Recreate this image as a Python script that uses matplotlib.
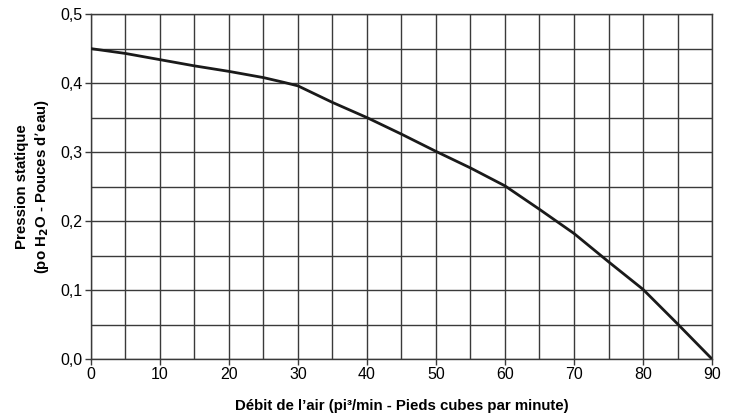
import numpy as np
import matplotlib
matplotlib.use("Agg")
import matplotlib.pyplot as plt
from matplotlib.ticker import MultipleLocator, FuncFormatter

plt.rcParams['font.family'] = ['Liberation Sans', 'DejaVu Sans']

# Débit (pi3/min) vs pression statique (po H2O)
debit = [0, 5, 10, 15, 20, 25, 28, 30, 35, 40, 45, 50, 55, 60, 65, 70, 75, 80, 85, 90]
pression = [0.450, 0.443, 0.434, 0.425, 0.417, 0.408, 0.401, 0.396, 0.372, 0.350, 0.326,
            0.301, 0.277, 0.251, 0.217, 0.182, 0.141, 0.101, 0.051, 0.0]

fig = plt.figure(figsize=(7.36, 4.16), dpi=100)
ax = fig.add_axes([0.1236, 0.137, 0.8438, 0.829])

ax.plot(debit, pression, color='#1a1a1a', lw=2.0, zorder=3)

ax.set_xlim(0, 90)
ax.set_ylim(0, 0.5)
ax.xaxis.set_major_locator(MultipleLocator(10))
ax.xaxis.set_minor_locator(MultipleLocator(5))
ax.yaxis.set_major_locator(MultipleLocator(0.1))
ax.yaxis.set_minor_locator(MultipleLocator(0.05))
ax.yaxis.set_major_formatter(FuncFormatter(lambda v, p: f"{v:.1f}".replace('.', ',')))

ax.grid(which='both', color='#3a3a3a', lw=1.0)
ax.set_axisbelow(True)
for s in ax.spines.values():
    s.set_color('#3a3a3a')
    s.set_linewidth(1.0)

ax.tick_params(which='major', length=4, width=1, color='#3a3a3a', labelsize=11.5, pad=2)
ax.tick_params(which='minor', length=0)

ax.set_xlabel("Débit de l’air (pi³/min - Pieds cubes par minute)", fontsize=10.8,
              fontweight='bold', labelpad=12)
ax.set_ylabel("Pression statique\n(po H$_\\mathbf{2}$O - Pouces d’eau)", fontsize=10.8,
              fontweight='bold', labelpad=7, linespacing=1.3)

fig.savefig("out.png", dpi=100)
